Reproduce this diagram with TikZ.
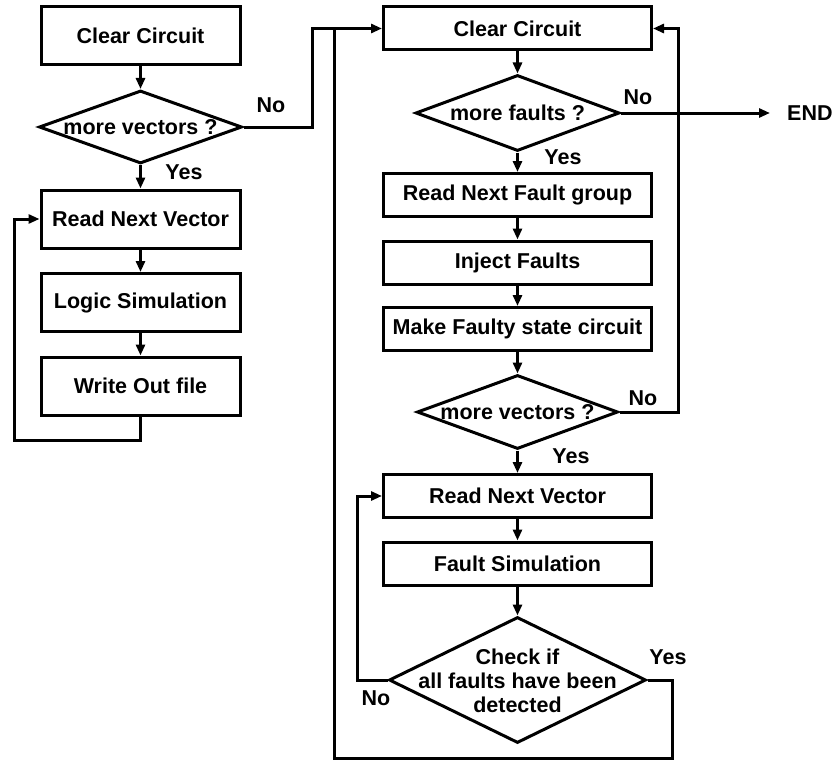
\documentclass[tikz,border=0pt]{standalone}
\usepackage{fontspec}
\setmainfont{Liberation Sans}
\usetikzlibrary{arrows.meta,shapes.geometric,calc}
\begin{document}
\begin{tikzpicture}[x=1pt,y=-1pt,
  every node/.style={font=\fontsize{21.5}{24}\selectfont\bfseries},
  flow/.style={line width=3pt,line join=miter},
  arr/.style={flow,-{Triangle[length=11pt,width=9pt]}},
  lbox/.style={draw,line width=3pt,inner sep=0pt,minimum width=199pt,minimum height=58pt},
  rbox/.style={draw,line width=3pt,inner sep=0pt,minimum width=268pt,minimum height=43pt},
  dec/.style={draw,line width=3pt,diamond,inner sep=0pt},
  lbl/.style={inner sep=0pt}]
\useasboundingbox (0,0) rectangle (833,760);

% ---- good-circuit pass (left column) ----
\node[lbox] (lclr) at (140.5,36) {Clear Circuit};
\node[dec,minimum width=203pt,minimum height=73pt] (lmore) at (140.5,127) {};
\node[lbl] (lmoret) at (lmore) {more vectors ?};
\node[lbox] (lread) at (140.5,219) {Read Next Vector};
\node[lbox] (llog) at (140.5,302.5) {Logic Simulation};
\node[lbox] (lwrite) at (140.5,386) {Write Out file};
\node[lbl] (lno) at (271,105) {No};
\node[lbl] (lyes) at (184,172) {Yes};

\coordinate (lloop) at (14,440);
\coordinate (njog) at (312,127);

\draw[arr] (lclr.south) -- (lmore.north);
\draw[arr] (lmore.south) -- (lread.north);
\draw[arr] (lread.south) -- (llog.north);
\draw[arr] (llog.south) -- (lwrite.north);
\draw[arr] (lwrite.south) |- (lloop) |- (lread.west);

% ---- faulty-circuit pass (right column) ----
\node[rbox] (rclr) at (517.5,28.5) {Clear Circuit};
\node[dec,minimum width=204pt,minimum height=76pt] (rmoref) at (517.5,113) {};
\node[lbl] (rmoreft) at (rmoref) {more faults ?};
\node[rbox] (rgrp) at (517.5,195) {Read Next Fault group};
\node[rbox] (rinj) at (517.5,262.5) {Inject Faults};
\node[rbox] (rmake) at (517.5,329) {Make Faulty state circuit};
\node[dec,minimum width=201pt,minimum height=74pt] (rmorev) at (517.5,412) {};
\node[lbl] (rmorevt) at (rmorev) {more vectors ?};
\node[rbox] (rread) at (517.5,496) {Read Next Vector};
\node[rbox] (rsim) at (517.5,563.5) {Fault Simulation};
\node[dec,minimum width=257pt,minimum height=126pt] (rchk) at (517.5,680) {};
\node[lbl,align=center] (rchkt) at (517.5,681) {Check if\\all faults have been\\detected};
\node[lbl,anchor=west,inner xsep=17pt] (rend) at (770,113) {END};

\node[lbl] (rno1) at (638,97) {No};
\node[lbl] (ryes1) at (563,157) {Yes};
\node[lbl] (rno2) at (643,398) {No};
\node[lbl] (ryes2) at (571,456) {Yes};
\node[lbl] (ryes3) at (668,657) {Yes};
\node[lbl] (rno3) at (376,698) {No};

\coordinate (rloop) at (678,412);
\coordinate (cno) at (357,680);
\coordinate (ybot) at (672,758);
\coordinate (lbot) at (334,758);

\draw[arr] (lmore.east) -- (njog) |- (rclr.west);
\draw[arr] (rclr.south) -- (rmoref.north);
\draw[arr] (rmoref.east) -- (rend.west);
\draw[arr] (rmoref.south) -- (rgrp.north);
\draw[arr] (rgrp.south) -- (rinj.north);
\draw[arr] (rinj.south) -- (rmake.north);
\draw[arr] (rmake.south) -- (rmorev.north);
\draw[arr] (rmorev.east) -- (rloop) |- (rclr.east);
\draw[arr] (rmorev.south) -- (rread.north);
\draw[arr] (rread.south) -- (rsim.north);
\draw[arr] (rsim.south) -- (rchk.north);
\draw[arr] (rchk.west) -- (cno) |- (rread.west);
\draw[flow] (rchk.east) -| (ybot) -- (lbot) -- (lbot |- rclr.west);
\end{tikzpicture}
\end{document}
